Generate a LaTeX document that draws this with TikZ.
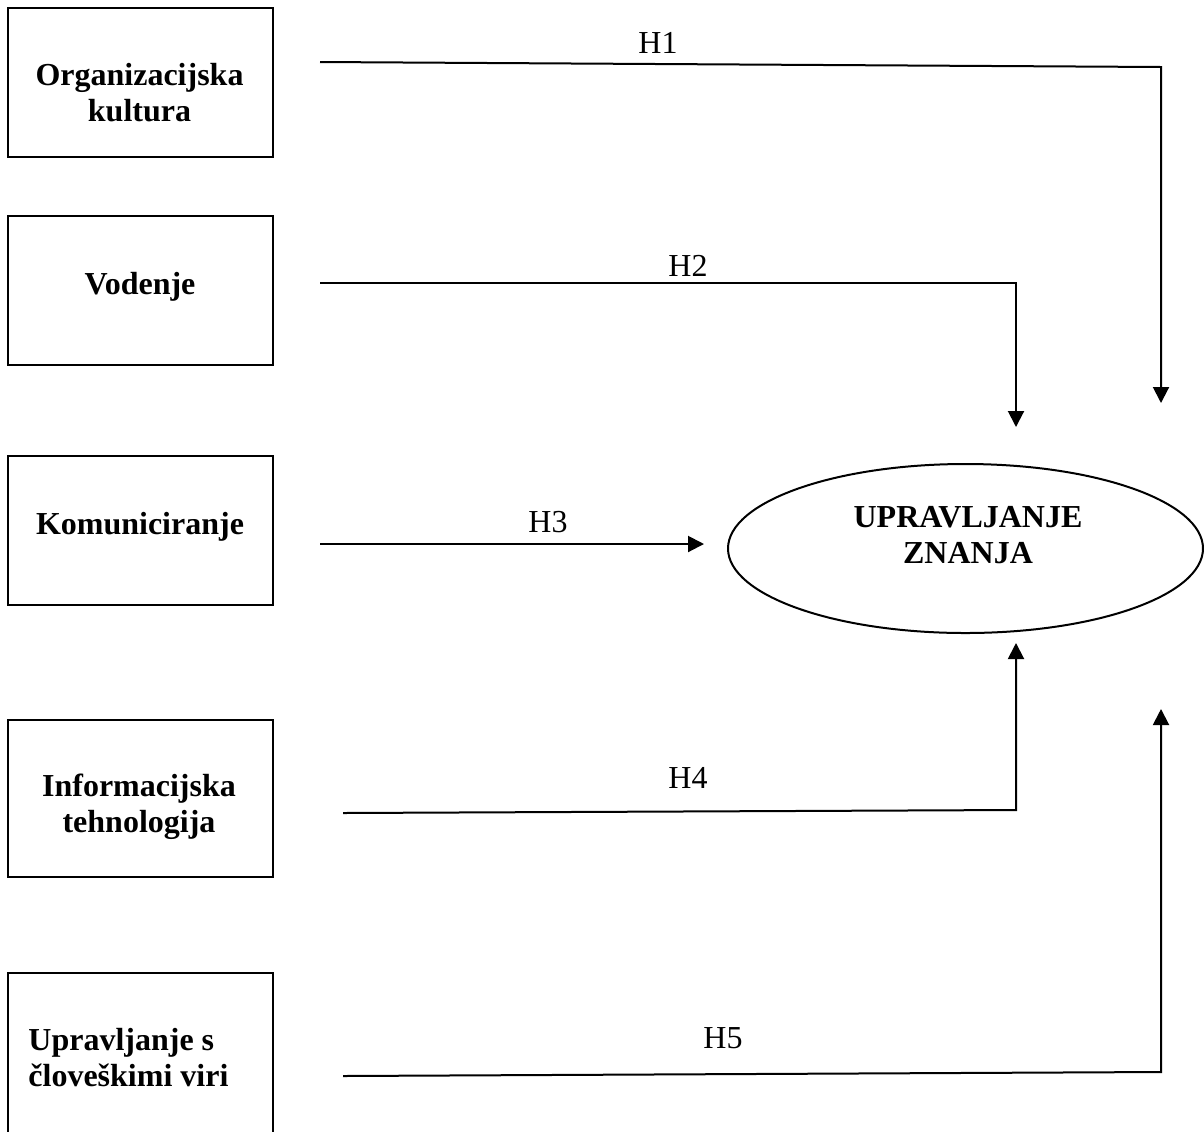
\documentclass[tikz,border=0pt]{standalone}
\usepackage{fontspec}
\setmainfont{Liberation Serif}
\usetikzlibrary{arrows.meta}
\tikzset{
  box/.style={draw, line width=1pt, rectangle, inner sep=0pt, minimum width=132.5pt},
  boxtext/.style={font=\fontsize{16}{18}\selectfont\bfseries, align=center, inner sep=0pt},
  hlab/.style={font=\fontsize{16}{18}\selectfont, inner sep=0pt, anchor=base},
  conn/.style={line width=1pt, -{Triangle[length=8pt,width=8pt]}},
}
\begin{document}
\begin{tikzpicture}[x=0.5pt, y=-0.5pt]
\useasboundingbox (0,0) rectangle (1204,1131);
\clip (0,0) rectangle (1204,1131);
% boxes
\node[box, minimum height=74.5pt] (b1) at (140.5,82.5) {};
\node[box, minimum height=74.5pt] (b2) at (140.5,290.5) {};
\node[box, minimum height=74.5pt] (b3) at (140.5,530.5) {};
\node[box, minimum height=78.5pt] (b4) at (140.5,798.5) {};
\node[box, minimum height=93.5pt] (b5) at (140.5,1066.5) {};
% box texts
\node[boxtext] (t1) at (139.5,93) {Organizacijska\\kultura};
\node[boxtext, anchor=base] (t2) at (140,294) {Vodenje};
\node[boxtext, anchor=base] (t3) at (140,534) {Komuniciranje};
\node[boxtext] (t4) at (139,807) {Informacijska\\tehnologija};
\node[boxtext, align=left, anchor=west] (t5) at (28,1058) {Upravljanje s\\človeškimi viri};
% ellipse
\draw[line width=1pt] (965.5,548.5) ellipse [x radius=237.5, y radius=84.5];
\node[boxtext] (km) at (968,535) {UPRAVLJANJE\\ZNANJA};
% connector points
\coordinate (s1) at (320,62);
\coordinate (c1) at (1161,67);
\coordinate (e1) at (1161,403);
\coordinate (s2) at (320,283);
\coordinate (c2) at (1016,283);
\coordinate (e2) at (1016,427);
\coordinate (s3) at (320,544);
\coordinate (e3) at (704,544);
\coordinate (s4) at (343,813);
\coordinate (c4) at (1016,810);
\coordinate (e4) at (1016,643);
\coordinate (s5) at (343,1076);
\coordinate (c5) at (1161,1072);
\coordinate (e5) at (1161,709);
\draw[conn] (s1) -- (c1) -- (e1);
\draw[conn] (s2) -- (c2) -- (e2);
\draw[conn] (s3) -- (e3);
\draw[conn] (s4) -- (c4) -- (e4);
\draw[conn] (s5) -- (c5) -- (e5);
% labels
\node[hlab] (h1) at (658,53) {H1};
\node[hlab] (h2) at (688,276) {H2};
\node[hlab] (h3) at (548,532) {H3};
\node[hlab] (h4) at (688,788) {H4};
\node[hlab] (h5) at (723,1048) {H5};
\end{tikzpicture}
\end{document}
